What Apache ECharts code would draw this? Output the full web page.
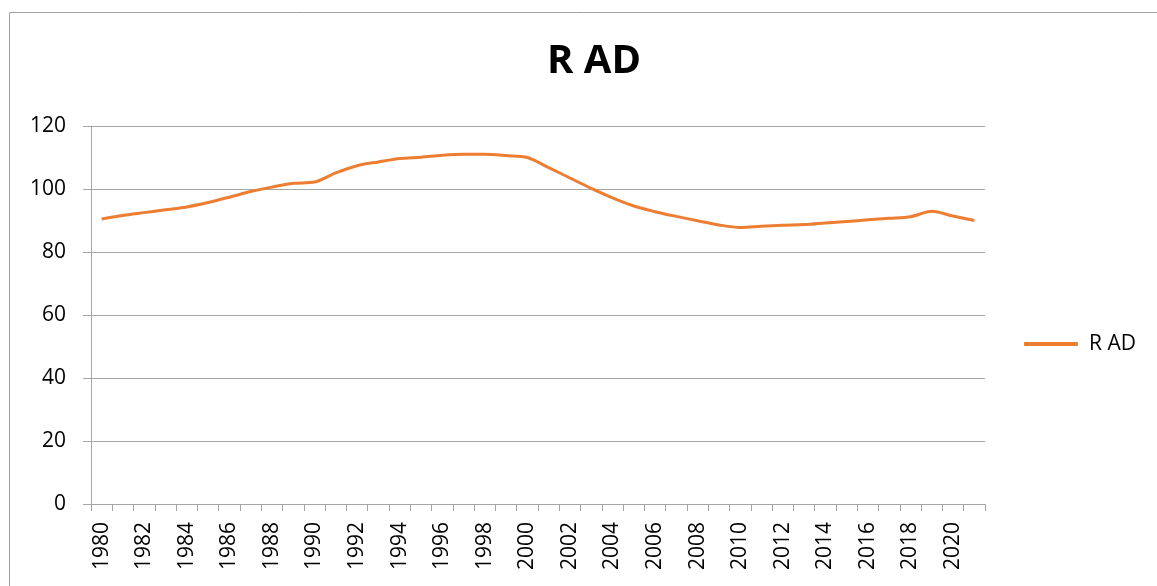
<!DOCTYPE html>
<html>
<head>
<meta charset="utf-8">
<script src="https://cdn.jsdelivr.net/npm/echarts@6/dist/echarts.min.js"></script>
<style>
  html, body { margin: 0; padding: 0; background: #fff; }
  #main { width: 1157px; height: 586px; }
</style>
</head>
<body>
<div id="main"></div>
<script>
// 年份
var years = [];
for (var y = 1980; y <= 2021; y++) years.push(String(y));

// R AD 数值
var radValues = [
  90.5, 91.6, 92.5, 93.4, 94.3, 95.7, 97.4, 99.2, 100.6, 101.8,
  102.2, 105.1, 107.4, 108.6, 109.7, 110.1, 110.7, 111.0, 111.0, 110.6,
  110.0, 106.8, 103.5, 100.2, 97.2, 94.6, 92.8, 91.3, 89.9, 88.6,
  87.8, 88.2, 88.5, 88.7, 89.2, 89.7, 90.2, 90.7, 91.2, 92.9,
  91.4, 90.0
];

var seriesName = "R AD";
var gray = "#a6a6a6";

var myChart = echarts.init(document.getElementById("main"));
myChart.setOption({
  animation: false,
  backgroundColor: "#fff",
  title: {
    text: seriesName,
    left: 547,
    top: 40,
    padding: 0,
    textStyle: {
      fontFamily: "Open Sans",
      fontSize: 40,
      fontWeight: "bold",
      color: "#000",
      lineHeight: 44,
    },
  },
  graphic: [
    {
      type: "rect",
      shape: { x: 9.5, y: 12.5, width: 1300, height: 800 },
      style: { fill: "none", stroke: "#a0a0a0", lineWidth: 1 },
      silent: true,
    },
  ],
  legend: {
    orient: "vertical",
    left: 1024,
    top: 333,
    padding: 0,
    icon: "roundRect",
    itemWidth: 54,
    itemHeight: 4,
    textStyle: {
      fontFamily: "Open Sans",
      fontSize: 21,
      color: "#000",
      lineHeight: 22,
      padding: [0, 0, 0, 6],
    },
    data: [seriesName],
  },
  grid: {
    left: 91,
    right: 172,
    top: 126,
    bottom: 82,
    containLabel: false,
  },
  xAxis: {
    type: "category",
    data: years,
    boundaryGap: true,
    axisLine: { lineStyle: { color: gray, width: 1 } },
    axisTick: {
      show: true,
      interval: 0,
      length: 7,
      lineStyle: { color: gray },
    },
    axisLabel: {
      interval: 1,
      rotate: 90,
      margin: 18,
      fontFamily: "Open Sans",
      fontSize: 21,
      color: "#000",
    },
    splitLine: { show: false },
  },
  yAxis: {
    type: "value",
    min: 0,
    max: 120,
    interval: 20,
    axisLine: { show: true, lineStyle: { color: gray, width: 1 } },
    axisTick: { show: true, length: 8, lineStyle: { color: gray } },
    axisLabel: {
      margin: 25,
      fontFamily: "Open Sans",
      fontSize: 21,
      color: "#000",
    },
    splitLine: { show: true, lineStyle: { color: gray, width: 1 } },
  },
  series: [
    {
      name: seriesName,
      type: "line",
      data: radValues,
      smooth: 0.3,
      symbol: "none",
      itemStyle: { color: "#ED7D31" },
      lineStyle: { color: "#ED7D31", width: 3 },
    },
  ],
});
</script>
</body>
</html>
